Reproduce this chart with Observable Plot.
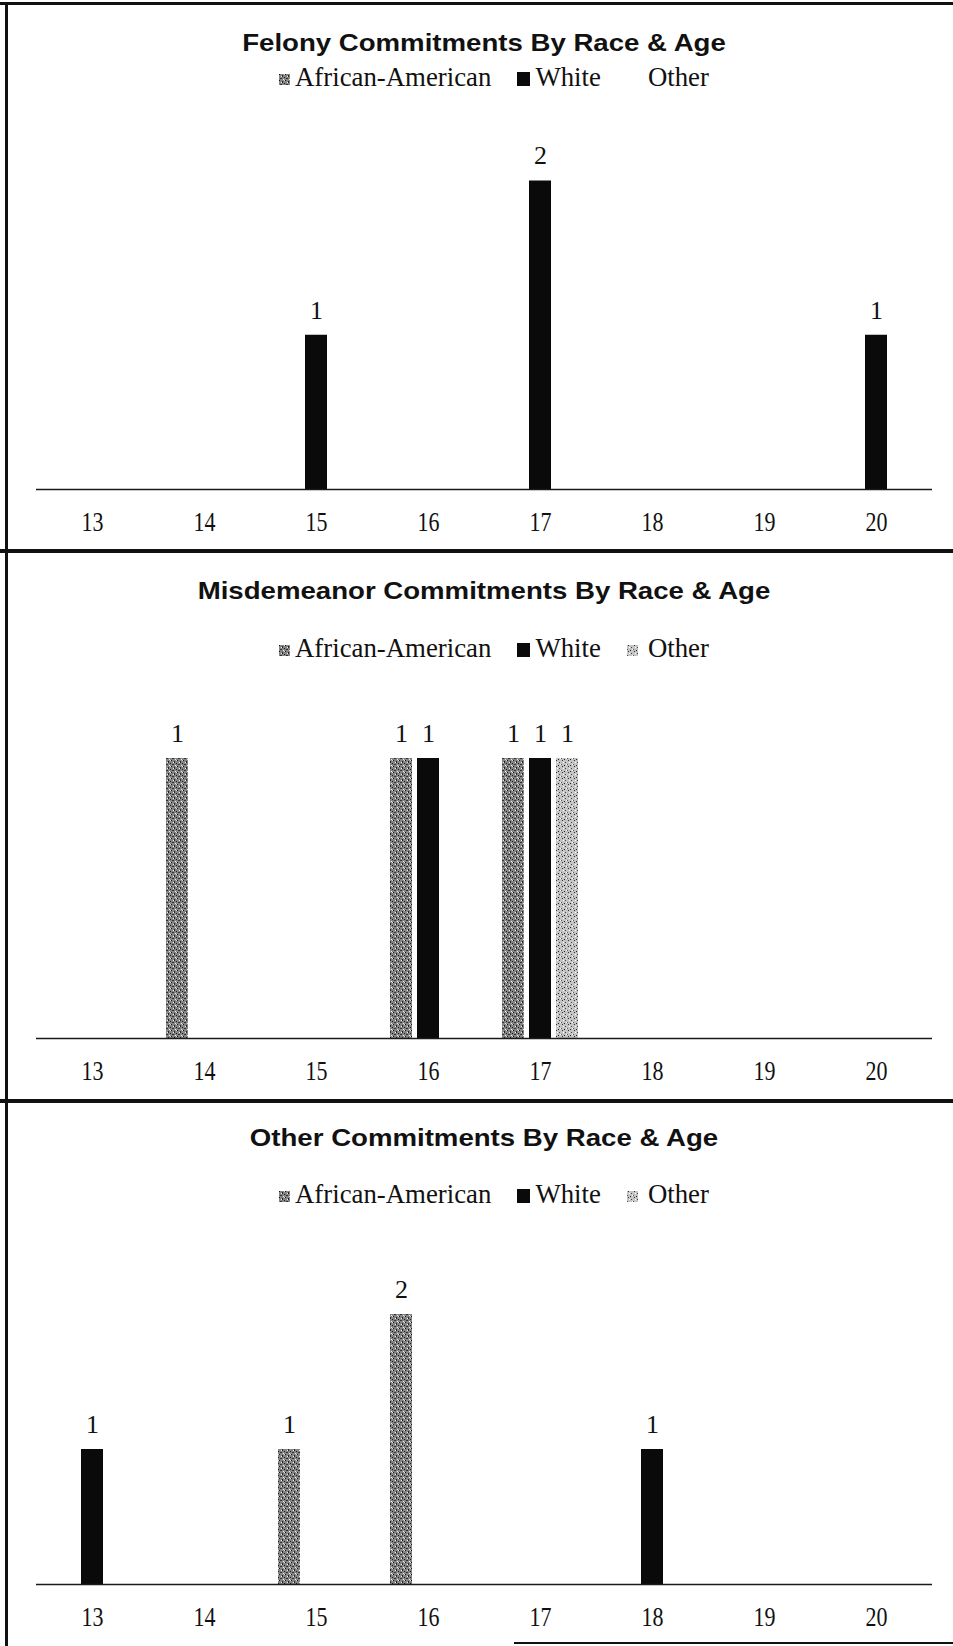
<!DOCTYPE html>
<html>
<head>
<meta charset="utf-8">
<script src="https://cdn.jsdelivr.net/npm/d3@7"></script>
<script src="https://cdn.jsdelivr.net/npm/@observablehq/plot@0.6"></script>
<style>
  body { margin: 0; background: #fff; }
  #page { position: relative; width: 953px; height: 1646px; overflow: hidden; background: #fff; }
  .line { position: absolute; background: #111; }
  .title { position: absolute; left: 0; width: 968px; text-align: center;
           font-family: "Liberation Sans", Arial, sans-serif; font-weight: bold;
           font-size: 24px; line-height: 24px; color: #111;
           transform: scaleX(1.15); transform-origin: 484px 0; white-space: nowrap; }
  .legend { position: absolute; display: flex; align-items: center; gap: 26px;
            font-family: "Liberation Serif", "Times New Roman", serif;
            font-size: 26.8px; line-height: 27px; color: #111; white-space: nowrap; }
  .legend .item { display: flex; align-items: center; }
  .legend svg { margin-right: 5px; margin-top: 3px; }
  .legend .item.other svg { margin-right: 10px; }
  .chart { position: absolute; left: 0; }
</style>
</head>
<body>
<svg width="0" height="0" style="position:absolute">
  <defs>
    <pattern id="patAA" width="6" height="6" patternUnits="userSpaceOnUse">
      <rect width="6" height="6" fill="#858585"/>
      <rect x="0" y="0" width="1" height="1" fill="#111"/>
      <rect x="3" y="1" width="1" height="2" fill="#222"/>
      <rect x="5" y="3" width="1" height="1" fill="#1a1a1a"/>
      <rect x="1" y="4" width="2" height="1" fill="#333"/>
      <rect x="2" y="2" width="1" height="1" fill="#f0f0f0"/>
      <rect x="4" y="5" width="1" height="1" fill="#eee"/>
      <rect x="5" y="0" width="1" height="1" fill="#ddd"/>
    </pattern>
    <pattern id="patOther" width="6" height="6" patternUnits="userSpaceOnUse">
      <rect width="6" height="6" fill="#c4c4c4"/>
      <rect x="1" y="0" width="1" height="1" fill="#333"/>
      <rect x="4" y="2" width="1" height="1" fill="#444"/>
      <rect x="0" y="4" width="1" height="1" fill="#555"/>
      <rect x="3" y="5" width="1" height="1" fill="#222"/>
      <rect x="2" y="2" width="1" height="1" fill="#fff"/>
      <rect x="5" y="4" width="1" height="1" fill="#fff"/>
    </pattern>
  </defs>
</svg>
<div id="page"></div>
<script>
// ---- data ----
const ages = [13, 14, 15, 16, 17, 18, 19, 20];
const races = ["African-American", "White", "Other"];

const felonyTitle = "Felony Commitments By Race & Age";
const felonyAfricanAmerican = [0, 0, 0, 0, 0, 0, 0, 0];
const felonyWhite           = [0, 0, 1, 0, 2, 0, 0, 1];
const felonyOther           = [0, 0, 0, 0, 0, 0, 0, 0];

const misdemeanorTitle = "Misdemeanor Commitments By Race & Age";
const misdemeanorAfricanAmerican = [0, 1, 0, 1, 1, 0, 0, 0];
const misdemeanorWhite           = [0, 0, 0, 1, 1, 0, 0, 0];
const misdemeanorOther           = [0, 0, 0, 0, 1, 0, 0, 0];

const otherTitle = "Other Commitments By Race & Age";
const otherAfricanAmerican = [0, 0, 1, 2, 0, 0, 0, 0];
const otherWhite           = [1, 0, 0, 0, 0, 1, 0, 0];
const otherOther           = [0, 0, 0, 0, 0, 0, 0, 0];

// ---- styles / layout ----
const fills = {"African-American": "url(#patAA)", "White": "#0a0a0a", "Other": "url(#patOther)"};
const offsets = {"African-American": -27, "White": 0, "Other": 27};

const panels = [
  {title: felonyTitle, series: [felonyAfricanAmerican, felonyWhite, felonyOther],
   titleTop: 31, legendTop: 64, svgTop: 100, height: 451, marginTop: 80.5, marginBottom: 62, hideOtherSwatch: true},
  {title: misdemeanorTitle, series: [misdemeanorAfricanAmerican, misdemeanorWhite, misdemeanorOther],
   titleTop: 579, legendTop: 635, svgTop: 700, height: 401, marginTop: 58, marginBottom: 63},
  {title: otherTitle, series: [otherAfricanAmerican, otherWhite, otherOther],
   titleTop: 1126, legendTop: 1181, svgTop: 1250, height: 396, marginTop: 64, marginBottom: 62}
];

const page = document.getElementById("page");

function stretchY(svg, selector, s) {
  svg.querySelectorAll(selector).forEach(t => {
    const b = t.getBBox();
    const cy = b.y + b.height / 2;
    const tr = t.getAttribute("transform");
    t.setAttribute("transform", (tr ? tr + " " : "") + `translate(0,${cy}) scale(1,${s}) translate(0,${-cy})`);
  });
}

for (const p of panels) {
  // title
  const t = document.createElement("div");
  t.className = "title";
  t.style.top = p.titleTop + "px";
  t.textContent = p.title;
  page.appendChild(t);

  // legend
  const lg = document.createElement("div");
  lg.className = "legend";
  lg.style.left = "279px";
  lg.style.top = p.legendTop + "px";
  races.forEach(r => {
    const it = document.createElement("div");
    it.className = "item" + (r === "Other" ? " other" : "");
    const ns = "http://www.w3.org/2000/svg";
    const sw = document.createElementNS(ns, "svg");
    sw.setAttribute("width", r === "White" ? 13 : 11);
    sw.setAttribute("height", r === "White" ? 14 : 11);
    const rc = document.createElementNS(ns, "rect");
    rc.setAttribute("width", "100%");
    rc.setAttribute("height", "100%");
    rc.setAttribute("fill", fills[r]);
    if (r === "Other" && p.hideOtherSwatch) rc.setAttribute("fill-opacity", 0);
    sw.appendChild(rc);
    it.appendChild(sw);
    const span = document.createElement("span");
    span.textContent = r;
    it.appendChild(span);
    lg.appendChild(it);
  });
  page.appendChild(lg);

  // data rows
  const rows = ages.flatMap((age, i) => races.map((race, j) => ({age, race, count: p.series[j][i]})))
                   .filter(d => d.count > 0);
  const ymax = d3.max(rows, d => d.count);

  const marks = [];
  for (const race of races) {
    const sub = rows.filter(d => d.race === race);
    marks.push(Plot.barY(sub, {x: "age", y: "count", fill: fills[race], insetLeft: 45, insetRight: 45, dx: offsets[race]}));
    marks.push(Plot.text(sub, {x: "age", y: "count", text: d => String(d.count), dx: offsets[race], dy: -25,
      lineAnchor: "middle", fontSize: 26, fontFamily: "Liberation Serif", fill: "#111", ariaLabel: "value label"}));
  }
  marks.push(Plot.ruleY([0], {stroke: "#1a1a1a", strokeWidth: 1.6}));
  marks.push(Plot.axisX({tickSize: 0, tickPadding: 24, fontSize: 22, fontFamily: "Liberation Serif", label: null, fill: "#111"}));

  const svg = Plot.plot({
    width: 953,
    height: p.height,
    marginLeft: 36,
    marginRight: 21,
    marginTop: p.marginTop,
    marginBottom: p.marginBottom,
    style: {background: "transparent", fontFamily: "Liberation Serif", fontSize: "22px", color: "#111"},
    x: {type: "band", domain: ages, padding: 0},
    y: {domain: [0, ymax], axis: null},
    marks
  });
  const holder = document.createElement("div");
  holder.className = "chart";
  holder.style.top = p.svgTop + "px";
  holder.appendChild(svg);
  page.appendChild(holder);
  stretchY(svg, 'g[aria-label="x-axis tick label"] text', 1.2);
  stretchY(svg, 'g[aria-label="value label"] text', 1.1);
}

// page frame lines (scan borders)
const lines = [
  {left: 0, top: 2, width: 953, height: 3},
  {left: 5, top: 2, width: 3, height: 1644},
  {left: 0, top: 549, width: 953, height: 4},
  {left: 0, top: 1099, width: 953, height: 4},
  {left: 514, top: 1642, width: 439, height: 2}
];
for (const l of lines) {
  const d = document.createElement("div");
  d.className = "line";
  Object.assign(d.style, {left: l.left + "px", top: l.top + "px", width: l.width + "px", height: l.height + "px"});
  page.appendChild(d);
}
</script>
</body>
</html>
